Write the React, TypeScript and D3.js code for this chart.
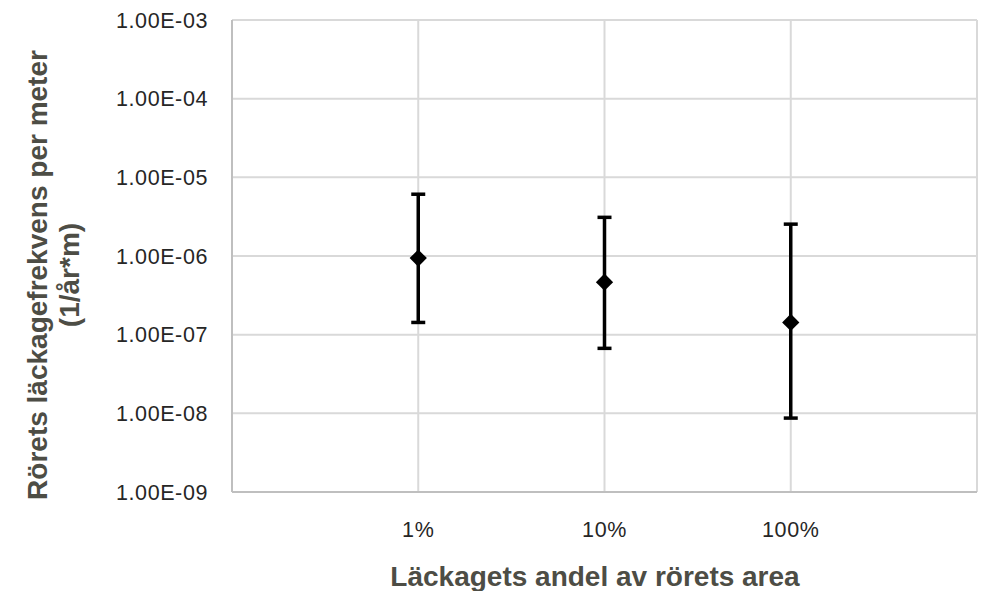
import React, { useEffect, useRef } from 'react';
import * as d3 from 'd3';

// categories on x
const categories = ['1%', '10%', '100%'];
// point estimates and error bar ends (1/år*m)
const centerValues = [9.4e-7, 4.65e-7, 1.43e-7];
const upperValues = [6.1e-6, 3.1e-6, 2.54e-6];
const lowerValues = [1.43e-7, 6.7e-8, 8.7e-9];
// y ticks
const yTicks = [1e-9, 1e-8, 1e-7, 1e-6, 1e-5, 1e-4, 1e-3];
const yTickLabels = ['1.00E-09', '1.00E-08', '1.00E-07', '1.00E-06', '1.00E-05', '1.00E-04', '1.00E-03'];

const App = () => {
  const ref = useRef<SVGSVGElement | null>(null);

  useEffect(() => {
    const width = 992;
    const height = 591;
    const plot = { left: 232, right: 977, top: 20, bottom: 492 };
    const font = '"Liberation Sans", Arial, sans-serif';

    const svg = d3.select(ref.current);
    svg.selectAll('*').remove();
    svg.attr('width', width).attr('height', height).style('font-family', font);

    const x = d3.scaleLinear().domain([0, categories.length + 1]).range([plot.left, plot.right]);
    const y = d3.scaleLog().domain([1e-9, 1e-3]).range([plot.bottom, plot.top]);

    // horizontal grid
    svg
      .append('g')
      .selectAll('line')
      .data(yTicks.slice(1))
      .enter()
      .append('line')
      .attr('x1', plot.left)
      .attr('x2', plot.right)
      .attr('y1', d => y(d))
      .attr('y2', d => y(d))
      .attr('stroke', '#d9d9d9')
      .attr('stroke-width', 2);

    // vertical grid
    svg
      .append('g')
      .selectAll('line')
      .data(d3.range(1, categories.length + 2))
      .enter()
      .append('line')
      .attr('x1', d => x(d))
      .attr('x2', d => x(d))
      .attr('y1', plot.top)
      .attr('y2', plot.bottom)
      .attr('stroke', '#d9d9d9')
      .attr('stroke-width', 2);

    // axes lines
    svg
      .append('line')
      .attr('x1', plot.left)
      .attr('x2', plot.left)
      .attr('y1', plot.top)
      .attr('y2', plot.bottom)
      .attr('stroke', '#bfbfbf')
      .attr('stroke-width', 2);
    svg
      .append('line')
      .attr('x1', plot.left)
      .attr('x2', plot.right)
      .attr('y1', plot.bottom)
      .attr('y2', plot.bottom)
      .attr('stroke', '#bfbfbf')
      .attr('stroke-width', 2);

    // y tick labels
    svg
      .append('g')
      .selectAll('text')
      .data(yTicks)
      .enter()
      .append('text')
      .attr('x', 208)
      .attr('y', d => y(d))
      .attr('dy', '0.35em')
      .attr('text-anchor', 'end')
      .style('font-size', '21.5px')
      .style('letter-spacing', '0.6px')
      .style('fill', '#262626')
      .text((d, i) => yTickLabels[i]);

    // x tick labels
    svg
      .append('g')
      .selectAll('text')
      .data(categories)
      .enter()
      .append('text')
      .attr('x', (d, i) => x(i + 1))
      .attr('y', 537)
      .attr('text-anchor', 'middle')
      .style('font-size', '21.5px')
      .style('letter-spacing', '0.6px')
      .style('fill', '#262626')
      .text(d => d);

    // error bars
    const bars = svg
      .append('g')
      .selectAll('g')
      .data(categories)
      .enter()
      .append('g');

    bars
      .append('line')
      .attr('x1', (d, i) => x(i + 1))
      .attr('x2', (d, i) => x(i + 1))
      .attr('y1', (d, i) => y(upperValues[i]))
      .attr('y2', (d, i) => y(lowerValues[i]))
      .attr('stroke', '#000')
      .attr('stroke-width', 3.5);

    bars
      .append('line')
      .attr('x1', (d, i) => x(i + 1) - 7)
      .attr('x2', (d, i) => x(i + 1) + 7)
      .attr('y1', (d, i) => y(upperValues[i]))
      .attr('y2', (d, i) => y(upperValues[i]))
      .attr('stroke', '#000')
      .attr('stroke-width', 3.5);

    bars
      .append('line')
      .attr('x1', (d, i) => x(i + 1) - 7)
      .attr('x2', (d, i) => x(i + 1) + 7)
      .attr('y1', (d, i) => y(lowerValues[i]))
      .attr('y2', (d, i) => y(lowerValues[i]))
      .attr('stroke', '#000')
      .attr('stroke-width', 3.5);

    // diamond markers
    const diamond = d3.symbol().type(d3.symbolDiamond2).size(190);
    bars
      .append('path')
      .attr('d', diamond)
      .attr('transform', (d, i) => `translate(${x(i + 1)},${y(centerValues[i])})`)
      .attr('fill', '#000');

    // x axis title
    svg
      .append('text')
      .attr('x', 595)
      .attr('y', 586)
      .attr('text-anchor', 'middle')
      .style('font-size', '28px')
      .style('font-weight', 'bold')
      .style('fill', '#4d4d45')
      .text('Läckagets andel av rörets area');

    // y axis title (two lines)
    const yTitle = svg
      .append('text')
      .attr('transform', 'translate(0,275) rotate(-90)')
      .attr('text-anchor', 'middle')
      .style('font-size', '28px')
      .style('font-weight', 'bold')
      .style('fill', '#4d4d45');
    yTitle.append('tspan').attr('x', 0).attr('y', 47).text('Rörets läckagefrekvens per meter');
    yTitle.append('tspan').attr('x', 0).attr('y', 79).text('(1/år*m)');
  }, []);

  return (
    <div style={{ position: 'absolute', left: 0, top: 0 }}>
      <svg ref={ref} />
    </div>
  );
};

export default App;
